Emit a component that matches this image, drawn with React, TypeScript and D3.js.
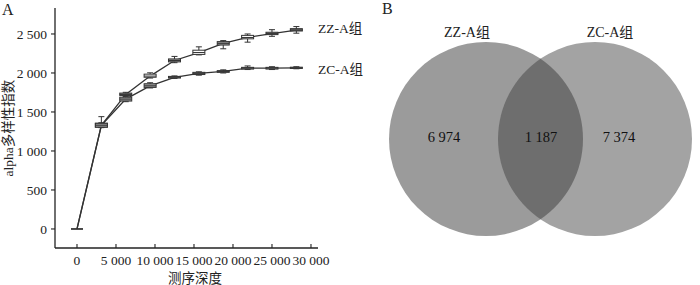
import React from "react";
import * as d3 from "d3";

const depths = [0, 3125, 6250, 9375, 12500, 15625, 18750, 21875, 25000, 28125];
const zzMedian = [0, 1330, 1725, 1960, 2160, 2262, 2380, 2455, 2505, 2550];
const zzQ1 = [0, 1305, 1712, 1945, 2142, 2238, 2358, 2438, 2492, 2538];
const zzQ3 = [0, 1355, 1742, 1985, 2180, 2292, 2402, 2482, 2522, 2568];
const zzMin = [0, 1300, 1705, 1935, 2132, 2232, 2310, 2395, 2470, 2510];
const zzMax = [0, 1440, 1752, 2002, 2212, 2335, 2415, 2500, 2555, 2595];
const zcMedian = [0, 1330, 1665, 1835, 1945, 1995, 2020, 2062, 2062, 2066];
const zcQ1 = [0, 1305, 1640, 1815, 1935, 1980, 2008, 2050, 2050, 2058];
const zcQ3 = [0, 1355, 1690, 1862, 1956, 2008, 2030, 2072, 2072, 2074];
const zcMin = [0, 1300, 1632, 1808, 1930, 1972, 2000, 2044, 2044, 2054];
const zcMax = [0, 1362, 1700, 1875, 1962, 2015, 2040, 2090, 2080, 2080];
const seriesLabels = ["ZZ-A组", "ZC-A组"];
const xTicks = [0, 5000, 10000, 15000, 20000, 25000, 30000];
const yTicks = [0, 500, 1000, 1500, 2000, 2500];
const xTitle = "测序深度";
const yTitle = "alpha多样性指数";

const vennSets = ["ZZ-A组", "ZC-A组"];
const vennCounts = [6974, 1187, 7374]; // only ZZ, both, only ZC

// styles
const zzFills = ["#fff", "#999", "#888", "#fff", "#999", "#fff", "#999", "#fff", "#999", "#777"];
const zcFills = ["#fff", "#999", "#999", "#999", "#999", "#999", "#999", "#999", "#999", "#999"];

const fmt = (v: number) => {
  const s = String(Math.abs(v));
  if (s.length <= 3) return (v < 0 ? "−" : "") + s;
  const parts: string[] = [];
  let r = s;
  while (r.length > 3) {
    parts.unshift(r.slice(-3));
    r = r.slice(0, -3);
  }
  parts.unshift(r);
  return parts.join(" ");
};

const FONT = "'Liberation Serif', 'Times New Roman', 'Noto Sans CJK SC', serif";

export default function App() {
  const x = d3.scaleLinear().domain([-2820, 30900]).range([55, 318]);
  const y = d3.scaleLinear().domain([-244, 2833]).range([248, 8]);

  const line = d3
    .line<number>()
    .x((_, i) => x(depths[i]))
    .y((d) => y(d));

  const series = [
    { med: zzMedian, q1: zzQ1, q3: zzQ3, mn: zzMin, mx: zzMax, fills: zzFills },
    { med: zcMedian, q1: zcQ1, q3: zcQ3, mn: zcMin, mx: zcMax, fills: zcFills },
  ];
  const bw = 12;
  const cap = 6;

  // Venn layout
  const r = 97;
  const c1 = { x: 486, y: 139 };
  const c2 = { x: 595, y: 139 };
  const d = c2.x - c1.x;
  const a = d / 2;
  const h = Math.sqrt(r * r - a * a);
  const px = c1.x + a;
  const lens = `M${px},${c1.y - h} A${r},${r} 0 0 1 ${px},${c1.y + h} A${r},${r} 0 0 1 ${px},${c1.y - h} Z`;

  const fs = 13.5;

  return (
    <svg width={700} height={285} style={{ position: "absolute", left: 0, top: 0, background: "#fff" }} fontFamily={FONT}>
      {/* Panel A */}
      <text x={2} y={15} fontSize={16} fill="#222">A</text>
      <line x1={55} x2={55} y1={y.range()[1]} y2={248} stroke="#222" strokeWidth={1.3} />
      <line x1={55} x2={318} y1={248} y2={248} stroke="#222" strokeWidth={1.3} />
      {yTicks.map((t) => (
        <g key={"y" + t}>
          <line x1={51} x2={55} y1={y(t)} y2={y(t)} stroke="#222" strokeWidth={1.1} />
          <text x={47} y={y(t)} dy="0.35em" fontSize={fs} textAnchor="end" fill="#222">
            {fmt(t)}
          </text>
        </g>
      ))}
      {xTicks.map((t) => (
        <g key={"x" + t}>
          <line x1={x(t)} x2={x(t)} y1={244} y2={248} stroke="#222" strokeWidth={1.1} />
          <text x={x(t)} y={265} fontSize={fs} textAnchor="middle" fill="#222">
            {fmt(t)}
          </text>
        </g>
      ))}
      <text x={195} y={283} fontSize={fs} textAnchor="middle" fill="#222">{xTitle}</text>
      <text transform={`translate(13,128) rotate(-90)`} fontSize={fs} textAnchor="middle" fill="#222">{yTitle}</text>

      {series.map((s, si) => (
        <path key={"l" + si} d={line(s.med) || ""} fill="none" stroke="#333" strokeWidth={1.3} />
      ))}
      {series.map((s, si) =>
        depths.map((dp, i) => {
          const cx = x(dp);
          if (i === 0) {
            return <line key={`z${si}`} x1={cx - 6} x2={cx + 6} y1={y(0)} y2={y(0)} stroke="#333" strokeWidth={1.3} />;
          }
          return (
            <g key={`b${si}-${i}`}>
              <line x1={cx} x2={cx} y1={y(s.mx[i])} y2={y(s.mn[i])} stroke="#333" strokeWidth={1} />
              <line x1={cx - cap / 2} x2={cx + cap / 2} y1={y(s.mx[i])} y2={y(s.mx[i])} stroke="#333" strokeWidth={1} />
              <line x1={cx - cap / 2} x2={cx + cap / 2} y1={y(s.mn[i])} y2={y(s.mn[i])} stroke="#333" strokeWidth={1} />
              <rect x={cx - bw / 2} width={bw} y={y(s.q3[i])} height={y(s.q1[i]) - y(s.q3[i])} fill={s.fills[i]} stroke="#333" strokeWidth={1} />
              <line x1={cx - bw / 2} x2={cx + bw / 2} y1={y(s.med[i])} y2={y(s.med[i])} stroke="#333" strokeWidth={1} />
            </g>
          );
        })
      )}
      <text x={318} y={y(zzMedian[9]) - 2} dy="0.35em" fontSize={fs} fill="#222">{seriesLabels[0]}</text>
      <text x={318} y={y(zcMedian[9]) + 1} dy="0.35em" fontSize={fs} fill="#222">{seriesLabels[1]}</text>

      {/* Panel B */}
      <text x={382} y={14} fontSize={16} fill="#222">B</text>
      <circle cx={c1.x} cy={c1.y} r={r} fill="#9b9b9b" />
      <circle cx={c2.x} cy={c2.y} r={r} fill="#a3a3a3" />
      <path d={lens} fill="#6e6e6e" />
      <text x={467} y={32} dy="0.35em" fontSize={14} textAnchor="middle" fill="#222">{vennSets[0]}</text>
      <text x={610} y={32} dy="0.35em" fontSize={14} textAnchor="middle" fill="#222">{vennSets[1]}</text>
      <text x={444} y={137} dy="0.35em" fontSize={14.5} textAnchor="middle" fill="#111">{fmt(vennCounts[0])}</text>
      <text x={541} y={137} dy="0.35em" fontSize={14.5} textAnchor="middle" fill="#111">{fmt(vennCounts[1])}</text>
      <text x={619} y={137} dy="0.35em" fontSize={14.5} textAnchor="middle" fill="#111">{fmt(vennCounts[2])}</text>
    </svg>
  );
}
